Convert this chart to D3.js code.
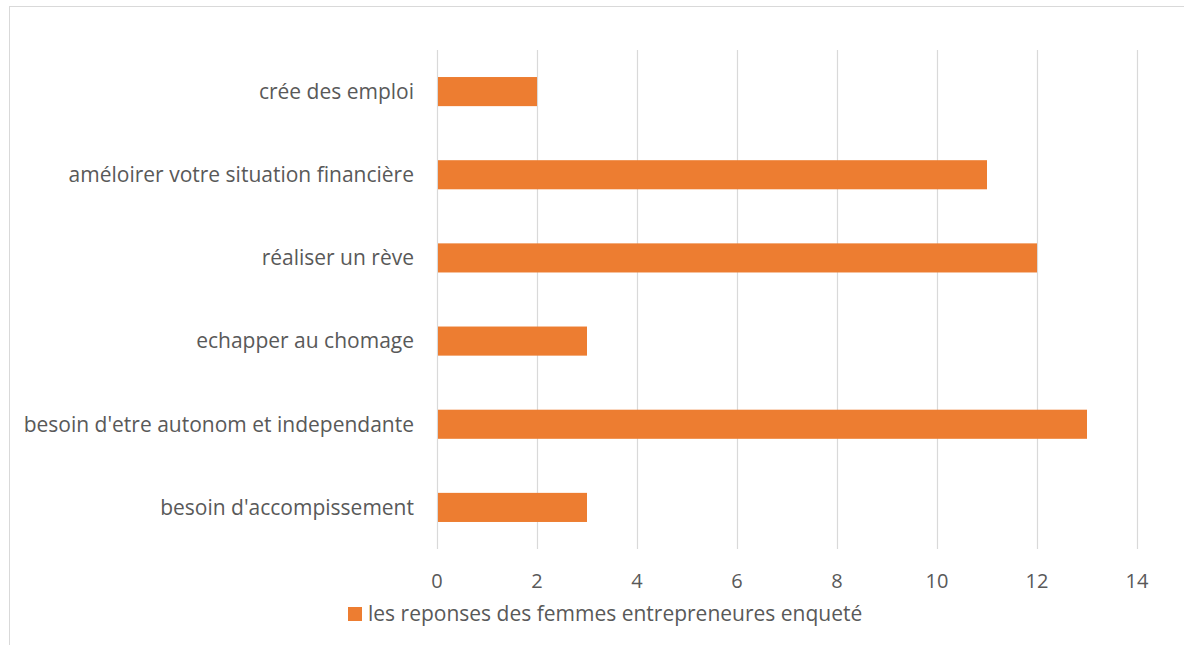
<!doctype html>
<html>
<head>
<meta charset="utf-8">
<script src="https://cdn.jsdelivr.net/npm/d3@7"></script>
<style>
  body { margin: 0; background: #fff; }
  svg { display: block; }
  text { font-family: "Open Sans", "Liberation Sans", sans-serif; fill: #595959; }
</style>
</head>
<body>
<svg width="1184" height="645"></svg>
<script>
// categories, top to bottom
var categories = ["crée des emploi",
                  "améloirer votre situation financière",
                  "réaliser un rève",
                  "echapper au chomage",
                  "besoin d'etre autonom et independante",
                  "besoin d'accompissement"];
var values = [2, 11, 12, 3, 13, 3];
var ticks = [0, 2, 4, 6, 8, 10, 12, 14];
var seriesName = "les reponses des femmes entrepreneures enqueté";

var svg = d3.select("svg");

// chart border (cut off on right and bottom)
svg.append("rect")
   .attr("x", 9.5).attr("y", 6.5)
   .attr("width", 1190).attr("height", 660)
   .attr("fill", "none")
   .attr("stroke", "#d9d9d9");

var x = d3.scaleLinear().domain([0, 14]).range([437, 1137]);
var y = d3.scaleBand().domain(categories).range([50, 549]).paddingInner(0.65).paddingOuter(0.325);

// gridlines
svg.append("g").selectAll("line")
   .data(ticks).enter().append("line")
   .attr("x1", function(d) { return Math.round(x(d)) + 0.5; })
   .attr("x2", function(d) { return Math.round(x(d)) + 0.5; })
   .attr("y1", 50).attr("y2", 549)
   .attr("stroke", "#d9d9d9").attr("stroke-width", 1.2);

// bars
svg.append("g").selectAll("rect")
   .data(values).enter().append("rect")
   .attr("x", x(0) + 1)
   .attr("y", function(d, i) { return y(categories[i]); })
   .attr("width", function(d) { return x(d) - x(0) - 1; })
   .attr("height", y.bandwidth())
   .attr("fill", "#ed7d31");

// category labels
svg.append("g").selectAll("text")
   .data(categories).enter().append("text")
   .attr("x", 414)
   .attr("y", function(d) { return y(d) + y.bandwidth() / 2; })
   .attr("dy", "0.35em")
   .attr("text-anchor", "end")
   .style("font-size", "21px")
   .text(function(d) { return d; });

// x axis tick labels
svg.append("g").selectAll("text")
   .data(ticks).enter().append("text")
   .attr("x", function(d) { return x(d); })
   .attr("y", 581)
   .attr("dy", "0.35em")
   .attr("text-anchor", "middle")
   .style("font-size", "20px")
   .text(function(d) { return d; });

// legend
var legend = svg.append("g");
legend.append("rect")
      .attr("x", 348).attr("y", 607)
      .attr("width", 14).attr("height", 14)
      .attr("fill", "#ed7d31");
legend.append("text")
      .attr("x", 368).attr("y", 614)
      .attr("dy", "0.35em")
      .style("font-size", "21px")
      .text(seriesName);
</script>
</body>
</html>
